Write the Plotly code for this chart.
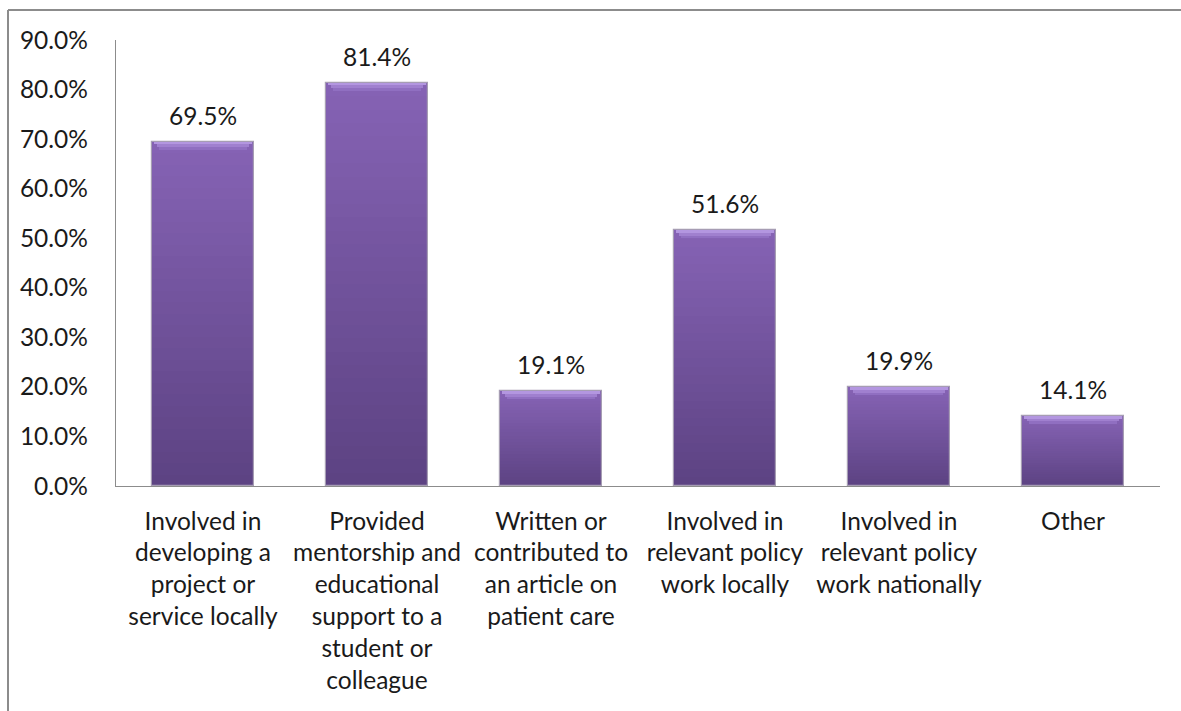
import plotly.graph_objects as go

categories = [
    "Involved in<br>developing a<br>project or<br>service locally",
    "Provided<br>mentorship and<br>educational<br>support to a<br>student or<br>colleague",
    "Written or<br>contributed to<br>an article on<br>patient care",
    "Involved in<br>relevant policy<br>work locally",
    "Involved in<br>relevant policy<br>work nationally",
    "Other",
]
values = [69.5, 81.4, 19.1, 51.6, 19.9, 14.1]
y_ticks = [0, 10, 20, 30, 40, 50, 60, 70, 80, 90]
y_tick_labels = [f"{v:.1f}%" for v in y_ticks]

FONT = "Lato"
FS = 24.5
W, H = 1181, 711
ML, MR, MT, MB = 116, 21, 40, 225
plot_h = H - MT - MB
px_per_unit = plot_h / 90.0

def lerp(c1, c2, t):
    return "#%02x%02x%02x" % tuple(int(round(a + (b - a) * t)) for a, b in zip(c1, c2))

bottom_col = (0x5c, 0x42, 0x82)
top_col = (0x86, 0x63, 0xb5)

fig = go.Figure()
N = 30
idx = list(range(len(categories)))
for k in range(N):
    t = (k + 0.5) / N
    fig.add_trace(go.Bar(
        x=idx,
        y=[v / N * 1.02 for v in values],
        base=[v * k / N for v in values],
        marker=dict(color=lerp(bottom_col, top_col, t), line=dict(width=0)),
        width=0.585, hoverinfo="skip", showlegend=False,
    ))

# top bevel highlight
bevel = 8 / px_per_unit
for a, c in enumerate([(0xb3, 0x96, 0xe0), (0xa0, 0x80, 0xcf), (0x90, 0x6f, 0xc1)]):
    h = bevel / 3
    fig.add_trace(go.Bar(
        x=idx,
        y=[h * 1.02] * len(values),
        base=[v - h * (a + 1) for v in values],
        marker=dict(color="#%02x%02x%02x" % c, line=dict(width=0)),
        width=0.585 * (1 - 0.045 * (a + 1)), hoverinfo="skip", showlegend=False,
    ))

# outline
fig.add_trace(go.Bar(
    x=idx, y=values,
    marker=dict(color="rgba(0,0,0,0)", line=dict(color="#a69db3", width=1.2)),
    width=0.585, hoverinfo="skip", showlegend=False,
))

for i, v in enumerate(values):
    fig.add_annotation(
        x=i, y=v, text=f"{v:.1f}%", showarrow=False,
        yanchor="bottom", yshift=10,
        font=dict(family=FONT, size=FS, color="#1a1a1a"),
    )

# chart-area border (left and top edges visible)
fig.add_shape(type="line", xref="paper", yref="paper",
              x0=(8 - ML) / (W - ML - MR), x1=(8 - ML) / (W - ML - MR),
              y0=-(H - (H - MB)) / plot_h - 0.1, y1=1 + (MT - 10) / plot_h,
              line=dict(color="#8c8c8c", width=2))
fig.add_shape(type="line", xref="paper", yref="paper",
              x0=(8 - ML) / (W - ML - MR), x1=1.2,
              y0=1 + (MT - 10) / plot_h, y1=1 + (MT - 10) / plot_h,
              line=dict(color="#8c8c8c", width=2))

fig.update_layout(
    width=W, height=H,
    margin=dict(l=ML, r=MR, t=MT, b=MB),
    paper_bgcolor="white", plot_bgcolor="white",
    barmode="overlay",
    bargap=0,
    font=dict(family=FONT, size=FS, color="#1a1a1a"),
    showlegend=False,
    xaxis=dict(
        tickmode="array", tickvals=idx, ticktext=categories,
        range=[-0.5, len(categories) - 0.5],
        showline=True, linecolor="#8c8c8c", linewidth=1.3,
        showgrid=False, zeroline=False, ticks="",
        ticklabelstandoff=13,
        tickfont=dict(family=FONT, size=FS, color="#1a1a1a"),
    ),
    yaxis=dict(
        tickmode="array", tickvals=y_ticks, ticktext=y_tick_labels,
        range=[0, 90],
        showline=True, linecolor="#8c8c8c", linewidth=1.3,
        showgrid=False, zeroline=False, ticks="",
        ticklabelstandoff=22,
        tickfont=dict(family=FONT, size=FS, color="#1a1a1a"),
    ),
)

fig.write_html("out.html")
